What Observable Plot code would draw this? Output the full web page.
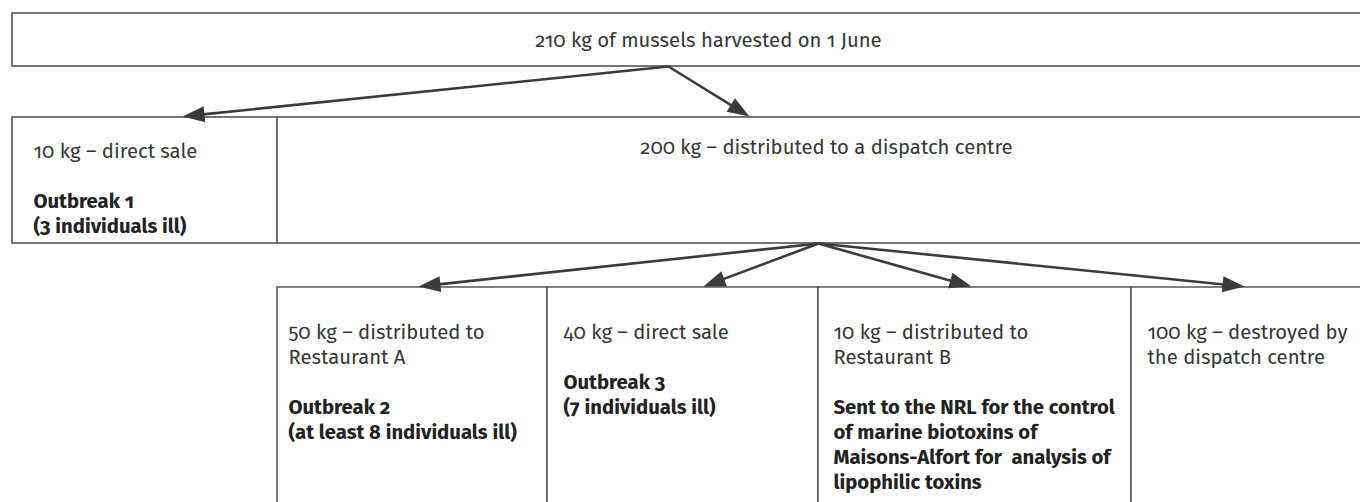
<!DOCTYPE html>
<html>
<head>
<meta charset="utf-8">
<script src="https://cdn.jsdelivr.net/npm/d3@7"></script>
<script src="https://cdn.jsdelivr.net/npm/@observablehq/plot@0.6"></script>
<style>
  html, body { margin: 0; padding: 0; background: #fff; }
  #chart { width: 1360px; height: 502px; overflow: hidden; }
  #chart svg text { font-variant-numeric: oldstyle-nums; font-feature-settings: "onum" 1; }
</style>
</head>
<body>
<div id="chart"></div>
<script>
// ---- data ----
const nodeIds = ["harvest", "direct1", "dispatch", "restA", "direct2", "restB", "destroyed"];
const nodeLines = [
  ["210 kg of mussels harvested on 1 June"],
  ["10 kg – direct sale"],
  ["200 kg – distributed to a dispatch centre"],
  ["50 kg – distributed to", "Restaurant A"],
  ["40 kg – direct sale"],
  ["10 kg – distributed to", "Restaurant B"],
  ["100 kg – destroyed by", "the dispatch centre"]
];
const nodeBoldLines = [
  [],
  ["Outbreak 1", "(3 individuals ill)"],
  [],
  ["Outbreak 2", "(at least 8 individuals ill)"],
  ["Outbreak 3", "(7 individuals ill)"],
  ["Sent to the NRL for the control", "of marine biotoxins of", "Maisons-Alfort for  analysis of", "lipophilic toxins"],
  []
];
const edgeFrom = ["harvest", "harvest", "dispatch", "dispatch", "dispatch", "dispatch"];
const edgeTo   = ["direct1", "dispatch", "restA", "direct2", "restB", "destroyed"];

// ---- layout (diagram geometry, kept apart from the data) ----
const layout = {
  harvest:   {row: 1, x1: 12,   x2: 1420, y1: 13,  y2: 66,  tx: 708,  align: "middle", base: 46,  out: [668, 66]},
  direct1:   {row: 2, x1: 12,   x2: 277,  y1: 117, y2: 243, tx: 33,   align: "start",  base: 157, tip: [182, 116]},
  dispatch:  {row: 2, x1: 277,  x2: 1420, y1: 117, y2: 243, tx: 826,  align: "middle", base: 153, tip: [749, 116], out: [818, 243]},
  restA:     {row: 3, x1: 277,  x2: 547,  y1: 287, y2: 540, tx: 288,  align: "start",  base: 338, tip: [418, 286]},
  direct2:   {row: 3, x1: 547,  x2: 818,  y1: 287, y2: 540, tx: 563,  align: "start",  base: 338, tip: [703, 286]},
  restB:     {row: 3, x1: 818,  x2: 1131, y1: 287, y2: 540, tx: 833,  align: "start",  base: 338, tip: [971, 286]},
  destroyed: {row: 3, x1: 1131, x2: 1420, y1: 287, y2: 540, tx: 1147, align: "start",  base: 338, tip: [1244, 286]}
};
const lineStep = 25;
const headLength = 22;
const headRadius = 8;

// ---- derived tables ----
const boxes = nodeIds.map(id => ({id, ...layout[id]}));

const textRows = [];
nodeIds.forEach((id, i) => {
  const L = layout[id];
  nodeLines[i].forEach((t, k) => textRows.push({id, text: t, bold: false, x: L.tx, y: L.base + k * lineStep, align: L.align}));
  const off = nodeLines[i].length + 1;
  nodeBoldLines[i].forEach((t, k) => textRows.push({id, text: t, bold: true, x: L.tx, y: L.base + (off + k) * lineStep, align: L.align}));
});

const edges = edgeFrom.map((f, i) => {
  const [x0, y0] = layout[f].out;
  const [x1, y1] = layout[edgeTo[i]].tip;
  const dx = x1 - x0, dy = y1 - y0, len = Math.hypot(dx, dy);
  const ux = dx / len, uy = dy / len;
  return {
    x0, y0, x1, y1,
    xe: x1 - ux * headLength * 0.6, ye: y1 - uy * headLength * 0.6,
    angle: Math.atan2(dx, -dy) * 180 / Math.PI
  };
});

const font = "'Fira Sans', Lato, 'Open Sans', sans-serif";
const fontSize = 20.3;

const chart = Plot.plot({
  width: 1360,
  height: 502,
  margin: 0,
  x: {domain: [0, 1360], range: [0, 1360], axis: null},
  y: {domain: [0, 502], range: [0, 502], axis: null},
  style: {fontFamily: font, background: "#fff", overflow: "hidden"},
  marks: [
    Plot.rect(boxes.filter(d => d.row < 3), {x1: "x1", x2: "x2", y1: "y1", y2: "y2", fill: "#fff", stroke: "#686868", strokeWidth: 1.8, clip: true}),
    Plot.rect(boxes.filter(d => d.row === 3), {x1: "x1", x2: "x2", y1: "y1", y2: "y2", fill: "#fff", stroke: "#4a4a4a", strokeWidth: 1.4, clip: true}),
    Plot.link(edges, {x1: "x0", y1: "y0", x2: "xe", y2: "ye", stroke: "#3b3b3b", strokeWidth: 2.6}),
    Plot.vector(edges, {x: "x1", y: "y1", rotate: "angle", length: headLength, r: headRadius, shape: "spike", anchor: "end", fill: "#3b3b3b", stroke: "none"}),
    Plot.text(textRows.filter(d => !d.bold && d.align === "middle"), {x: "x", y: "y", text: "text", textAnchor: "middle", lineAnchor: "bottom", fontSize, fill: "#363636", fontWeight: 400}),
    Plot.text(textRows.filter(d => !d.bold && d.align === "start"), {x: "x", y: "y", text: "text", textAnchor: "start", lineAnchor: "bottom", fontSize, fill: "#363636", fontWeight: 400}),
    Plot.text(textRows.filter(d => d.bold), {x: "x", y: "y", text: "text", textAnchor: "start", lineAnchor: "bottom", fontSize, fill: "#222", fontWeight: 700})
  ]
});
document.getElementById("chart").appendChild(chart);
</script>
</body>
</html>
